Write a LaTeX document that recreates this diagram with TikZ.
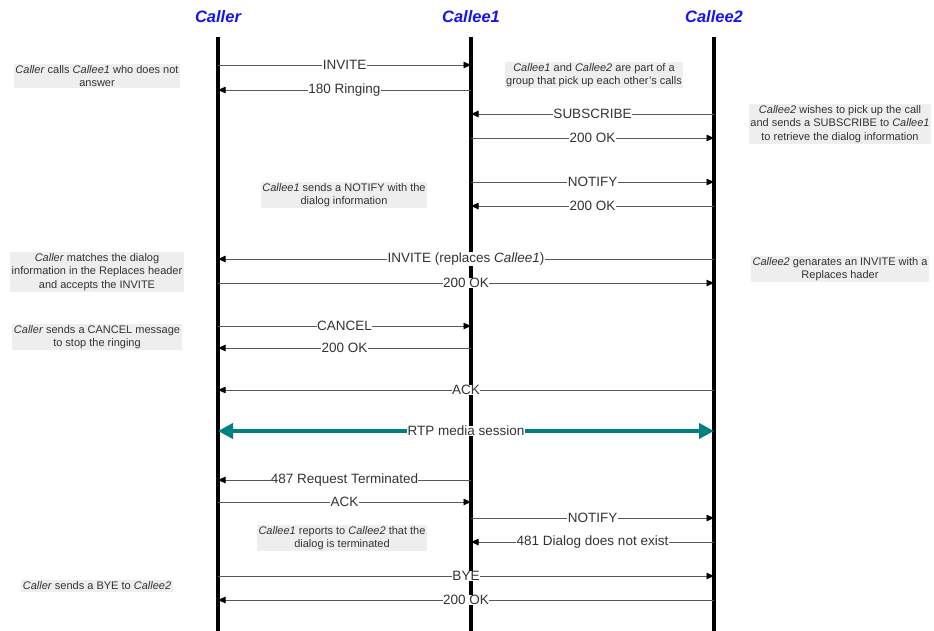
\documentclass[tikz,border=0pt]{standalone}
\usepackage{fontspec}
\setmainfont{Liberation Sans}
\usetikzlibrary{arrows.meta}
\definecolor{hdr}{RGB}{20,20,240}
\definecolor{rtp}{RGB}{0,128,128}
\definecolor{notebg}{RGB}{238,238,238}
\newcommand{\who}[1]{\textit{#1}}

\begin{document}
\begin{tikzpicture}[x=1pt, y=-1pt,
    every node/.style={font=\fontsize{13.5}{15}\selectfont, text=black!80},
    actor/.style={font=\fontsize{16.5}{18}\selectfont\bfseries\itshape, text=hdr},
    lifeline/.style={line width=3.5pt, draw=black},
    msg/.style={-{Triangle[length=7.5pt,width=6.5pt,color=black]}, draw=black!65, line width=0.8pt},
    lbl/.style={fill=white, inner sep=0.3pt},
    media/.style={{Triangle[length=15pt,width=15pt]}-{Triangle[length=15pt,width=15pt]},
        draw=rtp, line width=4.5pt},
    note/.style={fill=notebg, align=center, inner xsep=1.5pt, inner ysep=1.5pt,
        font=\fontsize{11}{13.3}\selectfont}
]
\useasboundingbox (0,0) rectangle (934,631);

% Lifelines
\node[actor] (Ca) at (218,17) {Caller};
\node[actor] (Co) at (471,17) {Callee1};
\node[actor] (Ct) at (714,17) {Callee2};

\foreach \n in {Ca,Co,Ct} {
  \draw[lifeline] (\n |- 0,37) -- (\n |- 0,631);
}

% y coords
\def\yA{65}    % INVITE
\def\yB{90}    % 180 Ringing
\def\yC{114}   % SUBSCRIBE
\def\yD{138}   % 200 OK
\def\yE{182}   % NOTIFY
\def\yF{206}   % 200 OK
\def\yG{259}   % INVITE (replaces)
\def\yH{283}   % 200 OK
\def\yI{326}   % CANCEL
\def\yJ{348}   % 200 OK
\def\yK{390}   % ACK
\def\yL{431}   % RTP
\def\yM{480}   % 487
\def\yN{502}   % ACK
\def\yO{518}   % NOTIFY
\def\yP{542}   % 481
\def\yQ{576}   % BYE
\def\yR{600}   % 200 OK

% ── Call to Callee1, pick-up by Callee2 ─────────────────────
\draw[msg] (Ca |- 0,\yA) -- node[lbl] {INVITE} (Co |- 0,\yA);
\draw[msg] (Co |- 0,\yB) -- node[lbl] {180 Ringing} (Ca |- 0,\yB);
\draw[msg] (Ct |- 0,\yC) -- node[lbl] {SUBSCRIBE} (Co |- 0,\yC);
\draw[msg] (Co |- 0,\yD) -- node[lbl] {200 OK} (Ct |- 0,\yD);
\draw[msg] (Co |- 0,\yE) -- node[lbl] {NOTIFY} (Ct |- 0,\yE);
\draw[msg] (Ct |- 0,\yF) -- node[lbl] {200 OK} (Co |- 0,\yF);

% ── Replaces ────────────────────────────────────────────────
\draw[msg] (Ct |- 0,\yG) -- node[lbl] {INVITE (replaces \who{Callee1})} (Ca |- 0,\yG);
\draw[msg] (Ca |- 0,\yH) -- node[lbl] {200 OK} (Ct |- 0,\yH);
\draw[msg] (Ca |- 0,\yI) -- node[lbl] {CANCEL} (Co |- 0,\yI);
\draw[msg] (Co |- 0,\yJ) -- node[lbl] {200 OK} (Ca |- 0,\yJ);
\draw[msg] (Ct |- 0,\yK) -- node[lbl] {ACK} (Ca |- 0,\yK);

% ── Media ───────────────────────────────────────────────────
\draw[media] (Ca |- 0,\yL) -- node[lbl] {RTP media session} (Ct |- 0,\yL);

% ── Teardown ────────────────────────────────────────────────
\draw[msg] (Co |- 0,\yM) -- node[lbl] {487 Request Terminated} (Ca |- 0,\yM);
\draw[msg] (Ca |- 0,\yN) -- node[lbl] {ACK} (Co |- 0,\yN);
\draw[msg] (Co |- 0,\yO) -- node[lbl] {NOTIFY} (Ct |- 0,\yO);
\draw[msg] (Ct |- 0,\yP) -- node[lbl] {481 Dialog does not exist} (Co |- 0,\yP);
\draw[msg] (Ca |- 0,\yQ) -- node[lbl] {BYE} (Ct |- 0,\yQ);
\draw[msg] (Ct |- 0,\yR) -- node[lbl] {200 OK} (Ca |- 0,\yR);

% ── Notes ───────────────────────────────────────────────────
\node[note] (n1) at (97,76)  {\who{Caller} calls \who{Callee1} who does not \\ answer};
\node[note] (n2) at (594,75) {\who{Callee1} and \who{Callee2} are part of a \\ group that pick up each other's calls};
\node[note] (n3) at (840,124) {\who{Callee2} wishes to pick up the call \\ and sends a SUBSCRIBE to \who{Callee1} \\ to retrieve the dialog information};
\node[note] (n4) at (344,195) {\who{Callee1} sends a NOTIFY with the \\ dialog information};
\node[note] (n5) at (97,272) {\who{Caller} matches the dialog \\ information in the Replaces header \\ and accepts the INVITE};
\node[note] (n6) at (840,269) {\who{Callee2} genarates an INVITE with a \\ Replaces hader};
\node[note] (n7) at (97,337) {\who{Caller} sends a CANCEL message \\ to stop the ringing};
\node[note] (n8) at (342,538) {\who{Callee1} reports to \who{Callee2} that the \\ dialog is terminated};
\node[note] (n9) at (97,586) {\who{Caller} sends a BYE to \who{Callee2}};

\end{tikzpicture}
\end{document}
